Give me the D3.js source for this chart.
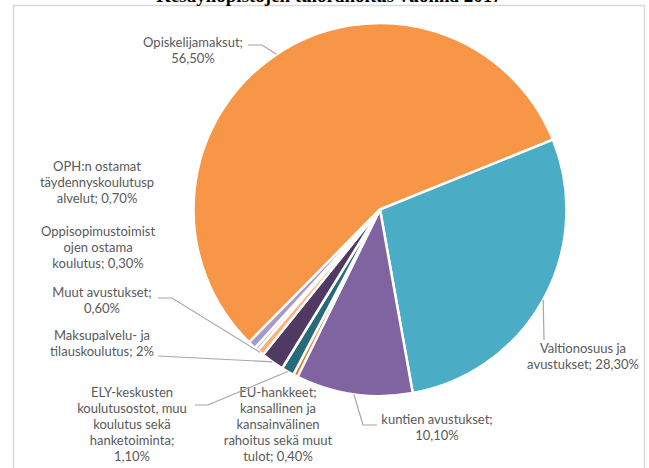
<html>
<head>
<meta charset="utf-8">
<style>
body { margin: 0; background: #fff; }
.lbl { font-family: Lato, "Open Sans", sans-serif; font-size: 13px; fill: #595959; }
.title { font-family: "Liberation Serif", serif; font-size: 19px; font-weight: bold; fill: #000; }
.leader { fill: none; stroke: #A6A6A6; stroke-width: 1.2px; }
</style>
</head>
<body>
<svg></svg>
<script src="https://cdn.jsdelivr.net/npm/d3@7"></script>
<script>
// data, in the chart's order (clockwise from the first slice)
var names = ["Opiskelijamaksut", "Valtionosuus ja avustukset", "kuntien avustukset",
  "EU-hankkeet; kansallinen ja kansainvälinen rahoitus sekä muut tulot",
  "ELY-keskusten koulutusostot, muu koulutus sekä hanketoiminta",
  "Maksupalvelu- ja tilauskoulutus", "Muut avustukset",
  "Oppisopimustoimistojen ostama koulutus", "OPH:n ostamat täydennyskoulutuspalvelut"];
var values = [56.5, 28.3, 10.1, 0.4, 1.1, 2, 0.6, 0.3, 0.7];
var colors = ["#F79646", "#4BACC6", "#8064A2", "#E3802E", "#276A7A", "#4E3A62", "#FAB27A", "#8ACBDD", "#A899C8"];

// label text lines as shown in the chart
var labelLines = [
  ["Opiskelijamaksut;", "56,50%"],
  ["Valtionosuus ja", "avustukset; 28,30%"],
  ["kuntien avustukset;", "10,10%"],
  ["EU-hankkeet;", "kansallinen ja", "kansainvälinen", "rahoitus sekä muut", "tulot; 0,40%"],
  ["ELY-keskusten", "koulutusostot, muu", "koulutus sekä", "hanketoiminta;", "1,10%"],
  ["Maksupalvelu- ja", "tilauskoulutus; 2%"],
  ["Muut avustukset;", "0,60%"],
  ["Oppisopimustoimist", "ojen ostama", "koulutus; 0,30%"],
  ["OPH:n ostamat", "täydennyskoulutusp", "alvelut; 0,70%"]
];

var width = 649, height = 468;
var cx = 380, cy = 209.5, r = 186.5;

var svg = d3.select("svg").attr("width", width).attr("height", height);

// frame of the chart area
svg.append("path")
    .attr("d", "M13.5," + height + "V5.5H644.5V" + height)
    .attr("fill", "none")
    .attr("stroke", "#D9D9D9")
    .attr("stroke-width", 1.5);

// title sits above the frame and is clipped by the page top, as in the source
svg.append("text")
    .attr("class", "title")
    .attr("x", 329).attr("y", 2)
    .attr("text-anchor", "middle")
    .text("Kesäyliopistojen tulorahoitus vuonna 2017");

var startDeg = -135.4;
var pie = d3.pie().sort(null).value(function(d) { return d; })
    .startAngle(startDeg * Math.PI / 180)
    .endAngle((startDeg + 360) * Math.PI / 180);
var arcs = pie(values);
var arc = d3.arc().innerRadius(0).outerRadius(r);

var g = svg.append("g").attr("transform", "translate(" + cx + "," + cy + ")");
g.selectAll("path")
  .data(arcs)
  .enter().append("path")
    .attr("d", arc)
    .attr("fill", function(d, i) { return colors[i]; })
    .attr("stroke", "#fff")
    .attr("stroke-width", 2.5)
    .attr("stroke-linejoin", "round");

// label layout: text centre x, first baseline y, leader start points (null = no leader)
var labelPos = [
  {x: 193, y: 47, lead: [[248, 45], [262, 45]]},
  {x: 583, y: 353, lead: [[544, 340]]},
  {x: 437, y: 424, lead: [[377, 425], [363, 425]]},
  {x: 278, y: 397, lead: null},
  {x: 132, y: 397, lead: [[195, 405], [208, 405]]},
  {x: 102, y: 340, lead: [[158, 356]]},
  {x: 102, y: 297, lead: [[158, 298], [172, 298]]},
  {x: 98, y: 236, lead: null},
  {x: 97, y: 171, lead: null}
];

function edgePoint(d) {
  var a = (d.startAngle + d.endAngle) / 2;
  return [cx + r * Math.sin(a), cy - r * Math.cos(a)];
}

var line = d3.line();
arcs.forEach(function(d, i) {
  var p = labelPos[i];
  if (p.lead) {
    svg.append("path")
        .attr("class", "leader")
        .attr("d", line(p.lead.concat([edgePoint(d)])));
  }
  var t = svg.append("text")
      .attr("class", "lbl")
      .attr("text-anchor", "middle");
  labelLines[i].forEach(function(s, k) {
    t.append("tspan").attr("x", p.x).attr("y", p.y + k * 16).text(s);
  });
});
</script>
</body>
</html>
